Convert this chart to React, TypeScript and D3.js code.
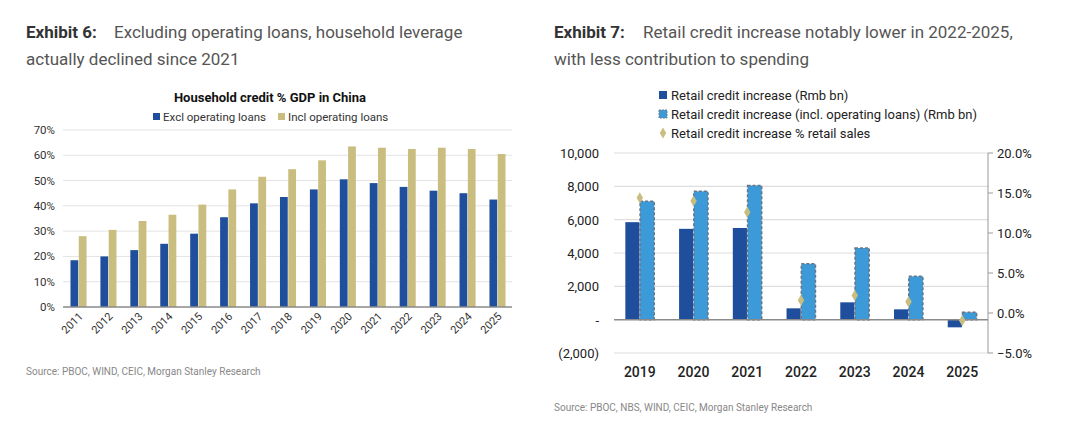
import * as d3 from "d3";

// Exhibit 6 data
const years6 = ["2011", "2012", "2013", "2014", "2015", "2016", "2017", "2018", "2019", "2020", "2021", "2022", "2023", "2024", "2025"];
const exclLoans = [18.5, 20, 22.5, 25, 29, 35.5, 41, 43.5, 46.5, 50.5, 49, 47.5, 46, 45, 42.5];
const inclLoans = [28, 30.5, 34, 36.5, 40.5, 46.5, 51.5, 54.5, 58, 63.5, 63, 62.5, 63, 62.5, 60.5];
const ticks6 = [0, 10, 20, 30, 40, 50, 60, 70];

// Exhibit 7 data
const years7 = ["2019", "2020", "2021", "2022", "2023", "2024", "2025"];
const retailCredit = [5850, 5450, 5500, 680, 1040, 620, -460];
const retailCreditIncl = [7100, 7700, 8050, 3350, 4300, 2600, 440];
const pctRetailSales = [14.4, 14.0, 12.6, 1.6, 2.2, 1.4, -0.95];
const leftTicks7 = [-2000, 0, 2000, 4000, 6000, 8000, 10000];
const rightTicks7 = [-5, 0, 5, 10, 15, 20];

const FONT = "Roboto, 'Noto Sans', sans-serif";
const DARK = "#1f4f9c";
const TAN = "#c9be7f";
const LIGHT = "#3d9ad8";

function Chart6() {
  const x = d3.scaleBand().domain(years6).range([64, 512]).paddingInner(0.43).paddingOuter(0.2);
  const sub = d3.scaleBand().domain(["excl", "incl"]).range([0, x.bandwidth()]).padding(0.06);
  const y = d3.scaleLinear().domain([0, 70]).range([307, 130]);
  const fmt = (v: number) => `${v}%`;
  return (
    <g fontFamily={FONT}>
      <text x={270} y={102} textAnchor="middle" fontSize={13} fontWeight={700} fill="#111">
        Household credit % GDP in China
      </text>
      <rect x={153} y={113} width={7} height={7} fill={DARK} />
      <text x={163} y={121} fontSize={11.5} fill="#333">Excl operating loans</text>
      <rect x={278} y={113} width={7} height={7} fill={TAN} />
      <text x={288} y={121} fontSize={11.5} fill="#333">Incl operating loans</text>
      {ticks6.map((t) => (
        <g key={t}>
          {t > 0 && <line x1={63} x2={512} y1={y(t)} y2={y(t)} stroke="#e3e3e3" strokeWidth={1} />}
          <text x={55} y={y(t) + 4} textAnchor="end" fontSize={11.5} fill="#333">{fmt(t)}</text>
        </g>
      ))}
      {years6.map((yr, i) => (
        <g key={yr}>
          <rect x={(x(yr) ?? 0) + (sub("excl") ?? 0)} y={y(exclLoans[i])} width={sub.bandwidth()} height={y(0) - y(exclLoans[i])} fill={DARK} />
          <rect x={(x(yr) ?? 0) + (sub("incl") ?? 0)} y={y(inclLoans[i])} width={sub.bandwidth()} height={y(0) - y(inclLoans[i])} fill={TAN} />
          <text
            transform={`translate(${(x(yr) ?? 0) + x.bandwidth() / 2 + 5},${y(0) + 10}) rotate(-45)`}
            textAnchor="end"
            fontSize={11}
            fill="#333"
          >
            {yr}
          </text>
        </g>
      ))}
      <line x1={63} x2={512} y1={y(0)} y2={y(0)} stroke="#8a8a8a" strokeWidth={1.5} />
    </g>
  );
}

function Chart7() {
  const x = d3.scaleBand().domain(years7).range([614, 988]).paddingInner(0.44).paddingOuter(0.2);
  const sub = d3.scaleBand().domain(["a", "b"]).range([0, x.bandwidth()]).padding(0.04);
  const yL = d3.scaleLinear().domain([-2000, 10000]).range([353, 153]);
  const yR = d3.scaleLinear().domain([-5, 20]).range([353, 153]);
  const fmtL = (v: number) => (v === 0 ? "-" : v < 0 ? `(${d3.format(",")(-v)})` : d3.format(",")(v));
  const fmtR = d3.format(".1f");
  const diamond = d3.symbol().type(d3.symbolDiamond).size(36);
  return (
    <g fontFamily={FONT}>
      <rect x={659} y={91} width={8} height={8} fill={DARK} />
      <text x={671} y={100} fontSize={13} fill="#222">Retail credit increase (Rmb bn)</text>
      <rect x={659} y={110} width={8} height={8} fill={LIGHT} stroke="#6f7f90" strokeWidth={1} strokeDasharray="2,1" />
      <text x={671} y={119} fontSize={13} fill="#222">Retail credit increase (incl. operating loans) (Rmb bn)</text>
      <path d={diamond() ?? ""} transform="translate(663,133)" fill={TAN} />
      <text x={671} y={138} fontSize={13} fill="#222">Retail credit increase % retail sales</text>

      {leftTicks7.map((t) => (
        <g key={t}>
          {t !== 0 && <line x1={614} x2={988} y1={yL(t)} y2={yL(t)} stroke="#dedede" strokeWidth={1.2} />}
          <text x={599} y={yL(t) + 5} textAnchor="end" fontSize={13} fill="#222">{fmtL(t)}</text>
        </g>
      ))}
      {rightTicks7.map((t) => (
        <g key={t}>
          <line x1={988} x2={993} y1={yR(t)} y2={yR(t)} stroke="#999" strokeWidth={1} />
          <text x={997} y={yR(t) + 5} fontSize={13} fill="#222">{`${fmtR(t)}%`}</text>
        </g>
      ))}
      <line x1={988} x2={988} y1={153} y2={353} stroke="#999" strokeWidth={1} />

      {years7.map((yr, i) => {
        const x0 = x(yr) ?? 0;
        const a = retailCredit[i];
        const b = retailCreditIncl[i];
        return (
          <g key={yr}>
            <rect x={x0 + (sub("a") ?? 0)} y={yL(Math.max(a, 0))} width={sub.bandwidth()} height={Math.abs(yL(a) - yL(0))} fill={DARK} />
            <rect
              x={x0 + (sub("b") ?? 0)}
              y={yL(Math.max(b, 0))}
              width={sub.bandwidth()}
              height={Math.abs(yL(b) - yL(0))}
              fill={LIGHT}
              stroke="#6a7584"
              strokeWidth={1.5}
              strokeDasharray="3,2"
            />
            <text x={x0 + x.bandwidth() / 2} y={377} textAnchor="middle" fontSize={14} fontWeight={500} fill="#222">{yr}</text>
          </g>
        );
      })}
      <line x1={614} x2={988} y1={yL(0)} y2={yL(0)} stroke="#8a8a8a" strokeWidth={1.5} />
      {years7.map((yr, i) => (
        <path
          key={yr}
          d={diamond() ?? ""}
          transform={`translate(${(x(yr) ?? 0) + x.bandwidth() / 2},${yR(pctRetailSales[i])})`}
          fill={TAN}
        />
      ))}
    </g>
  );
}

export default function App() {
  return (
    <svg width={1080} height={430} style={{ position: "absolute", left: 0, top: 0, background: "#fff" }}>
      <rect width={1080} height={430} fill="#fff" />
      <g fontFamily={FONT} fontSize={17}>
        <text x={26} y={38} fill="#555">
          <tspan fontWeight={700} fill="#333">Exhibit 6:</tspan>
          <tspan x={114}>Excluding operating loans, household leverage</tspan>
        </text>
        <text x={26} y={65} fill="#555">actually declined since 2021</text>
        <text x={554} y={38} fill="#555">
          <tspan fontWeight={700} fill="#333">Exhibit 7:</tspan>
          <tspan x={643}>Retail credit increase notably lower in 2022-2025,</tspan>
        </text>
        <text x={554} y={65} fill="#555">with less contribution to spending</text>
      </g>
      <Chart6 />
      <Chart7 />
      <text x={26} y={375} fontFamily={FONT} fontSize={10} fill="#888">Source: PBOC, WIND, CEIC, Morgan Stanley Research</text>
      <text x={554} y={411} fontFamily={FONT} fontSize={10} fill="#888">Source: PBOC, NBS, WIND, CEIC, Morgan Stanley Research</text>
    </svg>
  );
}
